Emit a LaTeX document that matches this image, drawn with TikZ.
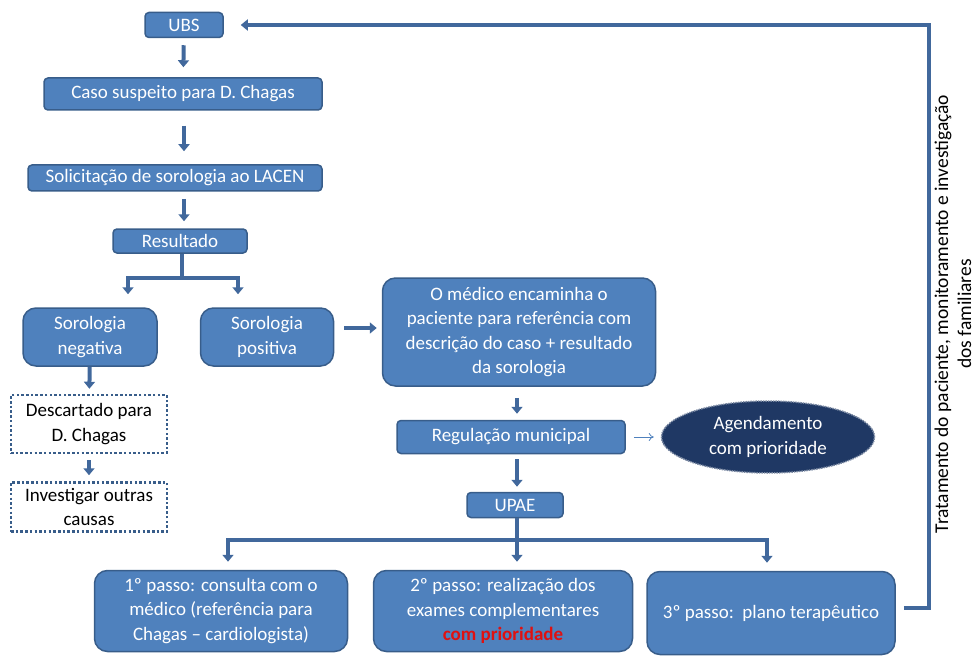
\documentclass[tikz,border=0pt]{standalone}
\usepackage{fontspec}
\setmainfont{Carlito}
\usetikzlibrary{arrows.meta,shapes.geometric}
\definecolor{boxblue}{HTML}{4F81BD}
\definecolor{boxline}{HTML}{385D8A}
\definecolor{arrblue}{HTML}{41689C}
\definecolor{navy}{HTML}{1F3864}
\definecolor{prio}{HTML}{E01010}

\begin{document}
\begin{tikzpicture}[x=1pt,y=-1pt,
box/.style={draw=boxline,line width=1.5pt,fill=boxblue,rounded corners=4pt,text=white,align=center,inner sep=0pt,font=\fontsize{19}{24.5}\selectfont},
bigbox/.style={box,rounded corners=13pt},
dotbox/.style={draw=boxline,line width=2.5pt,dash pattern=on 2.5pt off 2.2pt,align=center,inner sep=0pt,font=\fontsize{19}{24.5}\selectfont},
link/.style={draw=arrblue,line width=4pt},
arr/.style={link,-{Triangle[width=11pt,length=7pt]}}]
\useasboundingbox(0,0)rectangle(975,658);
\node[box,minimum width=78,minimum height=25](ubs)at(184,25){UBS};
\node[box,minimum width=278,minimum height=32](caso)at(183,94){Caso suspeito para D. Chagas};
\node[box,minimum width=294,minimum height=26](sol)at(175,178){Solicitação de sorologia ao LACEN};
\node[box,minimum width=134,minimum height=24](res)at(180,241){Resultado};
\node[bigbox,minimum width=134,minimum height=58](neg)at(90,337){Sorologia\\negativa};
\node[bigbox,minimum width=133,minimum height=58](pos)at(267,337){Sorologia\\positiva};
\node[bigbox,minimum width=273,minimum height=108](med)at(519,332){O médico encaminha o\\paciente para referência com\\descrição do caso + resultado\\da sorologia};
\node[dotbox,minimum width=156,minimum height=58](desc)at(89,424){Descartado para\\D. Chagas};
\node[dotbox,minimum width=156,minimum height=49](inv)at(89,507){Investigar outras\\causas};
\node[box,minimum width=228,minimum height=33](reg)at(511,437){Regulação municipal};
\node[ellipse,draw=navy!60!white,densely dotted,line width=1.5pt,fill=navy,text=white,align=center,minimum width=213,minimum height=72,inner sep=0pt,font=\fontsize{19}{24.5}\selectfont](agend)at(768,437){Agendamento\\com prioridade};
\node[box,minimum width=96,minimum height=25](upae)at(515,505){UPAE};
\node[bigbox,minimum width=253,minimum height=81](p1)at(221,611){1º passo: consulta com o\\médico (referência para\\Chagas -- cardiologista)};
\node[bigbox,minimum width=259,minimum height=81](p2)at(503,611){2º passo: realização dos\\exames complementares\\\textcolor{prio}{\textbf{com prioridade}}};
\node[bigbox,minimum width=248,minimum height=83](p3)at(771,613){3º passo:\ \ plano terapêutico};
\node[rotate=90,align=center,font=\fontsize{19.5}{23}\selectfont](trat)at(953,314){Tratamento do paciente, monitoramento e investigação\\dos familiares};
\coordinate(fk)at(182,278);
\coordinate(fk2)at(517,540);
\coordinate(ret)at(929,25);

\draw[arr,shorten <=7pt,shorten >=10pt](ubs)--(caso);
\draw[arr,shorten <=15pt,shorten >=13pt](caso.south -| ubs)--(sol.north -| ubs);
\draw[arr,shorten <=7pt,shorten >=7pt](sol.south -| ubs)--(res.north -| ubs);
\draw[link](res.south -| fk)--(fk);
\draw[arr,shorten >=13pt](fk)-|([xshift=38pt]neg.north);
\draw[arr,shorten >=13pt](fk)-|([xshift=-29pt]pos.north);
\draw[arr,shorten <=10pt,shorten >=5pt]([yshift=9pt]pos.east)--([yshift=9pt]pos.east -| med.west);
\draw[arr,shorten >=5pt](neg)--(desc);
\draw[arr,shorten <=6pt,shorten >=6pt](desc)--(inv);
\draw[arr,shorten <=12pt,shorten >=6pt](reg.north -| fk2)++(0,-34)--(reg.north -| fk2);
\draw[boxblue,line width=0.8pt,-{To[length=5pt,width=8pt]},shorten <=8pt,shorten >=7pt](reg.east)--(agend.west);
\draw[arr,shorten <=5pt,shorten >=5pt](reg.south -| fk2)--(upae.north -| fk2);
\draw[link](upae.south -| fk2)--(fk2);
\draw[arr,shorten >=8pt](fk2)-|([xshift=7pt]p1.north);
\draw[arr,shorten >=8pt](fk2)-|([xshift=-4pt]p3.north);
\draw[arr,shorten >=8pt](fk2)--(fk2 |- p2.north);
\draw[arr,shorten <=8pt,shorten >=17pt]([yshift=5pt]p3.east)-|(ret)--(ubs.east |- ret);
\end{tikzpicture}
\end{document}
